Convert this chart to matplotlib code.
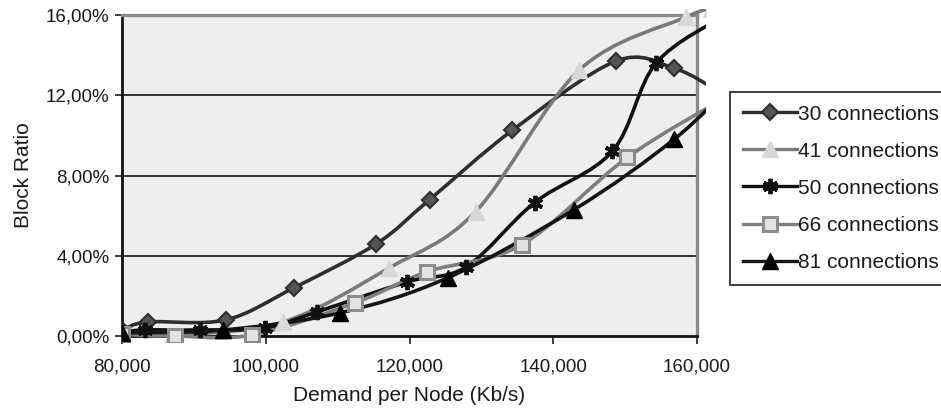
import numpy as np
import matplotlib
matplotlib.use('Agg')
import matplotlib.pyplot as plt
from matplotlib.path import Path
from matplotlib.patches import PathPatch, Rectangle
from matplotlib.lines import Line2D
from matplotlib.ticker import FuncFormatter

plt.rcParams['font.family'] = ['Liberation Sans', 'DejaVu Sans']

# values (block ratio in %)
x30 = [80000, 83600, 94400, 103900, 115400, 122800, 134300, 148700, 156800, 163000]
y30 = [0.3, 0.7, 0.8, 2.4, 4.6, 6.8, 10.25, 13.7, 13.35, 12.2]
x41 = [80000, 87000, 102400, 117200, 129200, 143600, 158500, 162000]
y41 = [0.1, 0.05, 0.7, 3.4, 6.2, 13.25, 15.9, 16.3]
x50 = [80000, 83200, 90800, 99900, 107100, 119700, 127900, 137400, 148200, 154300, 164000]
y50 = [0.2, 0.3, 0.3, 0.4, 1.2, 2.7, 3.45, 6.65, 9.2, 13.6, 16.0]
x66 = [80000, 87400, 98100, 112400, 122400, 135600, 150300, 164000]
y66 = [0.1, 0.0, 0.05, 1.65, 3.2, 4.55, 8.9, 11.9]
x81 = [80000, 94100, 110300, 125300, 142900, 156800, 165000]
y81 = [0.15, 0.3, 1.15, 2.9, 6.3, 9.8, 12.6]

labels = ['30 connections', '41 connections', '50 connections', '66 connections', '81 connections']
xs = [x30, x41, x50, x66, x81]
ys = [y30, y41, y50, y66, y81]

line_cols = ['#2e2e2e', '#7a7a7a', '#111111', '#7f7f7f', '#151515']
styles = [
    dict(marker='D', markersize=8, markerfacecolor='#555555', markeredgecolor='#2e2e2e', markeredgewidth=1.5),
    dict(marker='^', markersize=11, markerfacecolor='#d8d8d8', markeredgecolor='#d8d8d8', markeredgewidth=1),
    dict(marker=(6, 2, 0), markersize=11, markerfacecolor='#111111', markeredgecolor='#111111', markeredgewidth=2.8),
    dict(marker='s', markersize=10, markerfacecolor='#e2e2e2', markeredgecolor='#8c8c8c', markeredgewidth=2.2),
    dict(marker='^', markersize=11, markerfacecolor='#000000', markeredgecolor='#000000', markeredgewidth=1),
]


def smooth_path(x, y):
    # Excel style smoothed line: cubic bezier through the points
    p = np.column_stack([x, y]).astype(float)
    n = len(p)
    verts = [p[0]]
    codes = [Path.MOVETO]
    for i in range(n - 1):
        p0 = p[i - 1] if i > 0 else p[i]
        p1 = p[i]
        p2 = p[i + 1]
        p3 = p[i + 2] if i + 2 < n else p[i + 1]
        c1 = p1 + (p2 - p0) / 6.0
        c2 = p2 - (p3 - p1) / 6.0
        verts += [c1, c2, p2]
        codes += [Path.CURVE4] * 3
    return Path(verts, codes)


fig = plt.figure(figsize=(9.41, 4.13), dpi=100)
ax = fig.add_axes([122 / 941, 1 - 336 / 413, (697 - 122) / 941, (336 - 15) / 413])
ax.set_facecolor('#eeeeee')
ax.set_xlim(80000, 160000)
ax.set_ylim(0, 16)

for v in [4, 8, 12]:
    ax.axhline(v, color='#111111', lw=1.2, zorder=1)

clip = Rectangle((0, -0.02), 1.016, 1.04, transform=ax.transAxes, visible=False)
ax.add_patch(clip)

handles = []
for i in range(5):
    patch = PathPatch(smooth_path(xs[i], ys[i]), facecolor='none', edgecolor=line_cols[i], lw=2.6, zorder=3)
    ax.add_patch(patch)
    patch.set_clip_path(clip)
    mk = ax.plot(xs[i], ys[i], linestyle='none', zorder=4, **styles[i])[0]
    mk.set_clip_path(clip)
    handles.append(Line2D([], [], color=line_cols[i], lw=2.4, **styles[i]))

ax.spines['left'].set_color('#111111')
ax.spines['left'].set_linewidth(2)
ax.spines['bottom'].set_color('#111111')
ax.spines['bottom'].set_linewidth(2)
ax.spines['top'].set_color('#8a8a8a')
ax.spines['top'].set_linewidth(2.4)
ax.spines['right'].set_color('#8a8a8a')
ax.spines['right'].set_linewidth(2.4)

ax.set_xticks([80000, 100000, 120000, 140000, 160000])
ax.set_yticks([0, 4, 8, 12, 16])
ax.xaxis.set_major_formatter(FuncFormatter(lambda v, p: '{:,.0f}'.format(v)))
ax.yaxis.set_major_formatter(FuncFormatter(lambda v, p: ('%.2f' % v).replace('.', ',') + '%'))
ax.tick_params(axis='x', direction='out', length=6, width=1.2, pad=10, labelsize=13.5, colors='#1a1a1a')
ax.tick_params(axis='y', direction='out', length=5, width=1.2, pad=4, labelsize=13.5, colors='#1a1a1a')

ax.set_xlabel('Demand per Node (Kb/s)', fontsize=15, labelpad=8, color='#1a1a1a')
ax.set_ylabel('Block Ratio', fontsize=15, labelpad=9, color='#1a1a1a')

leg = fig.legend(handles, labels, loc='upper left', bbox_to_anchor=(730 / 941, 1 - 92 / 413),
                 frameon=True, fancybox=False, fontsize=15, handlelength=2.6, handletextpad=0.05,
                 labelspacing=0.87, borderpad=0.6, borderaxespad=0)
leg.get_frame().set_edgecolor('#111111')
leg.get_frame().set_linewidth(1.4)
for t in leg.get_texts():
    t.set_color('#1a1a1a')

fig.savefig('out.png', dpi=100)
